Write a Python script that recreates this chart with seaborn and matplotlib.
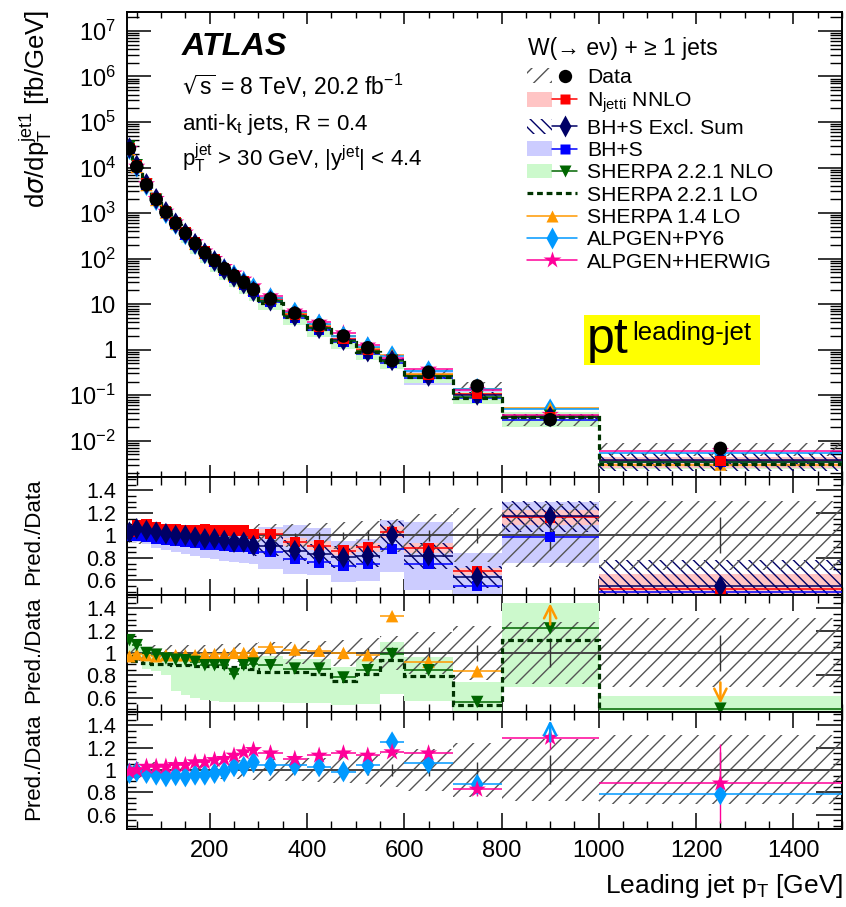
import numpy as np
import matplotlib
matplotlib.use("Agg")
import matplotlib.pyplot as plt
import seaborn as sns
from matplotlib.patches import Patch, Rectangle
from matplotlib.lines import Line2D
from matplotlib.legend_handler import HandlerTuple
from matplotlib import ticker

# ---------------- binning: leading-jet pT [GeV] ----------------
bin_edges = [30, 40, 60, 80, 100, 120, 140, 160, 180, 200, 220, 240, 260,
             280, 300, 350, 400, 450, 500, 550, 600, 700, 800, 1000, 1500]

# ---------------- measured cross section [fb/GeV] ----------------
data_xsec = [2.6e4, 1.05e4, 4.2e3, 2.0e3, 1.05e3, 6.0e2, 3.6e2, 2.15e2, 1.35e2,
             91, 60, 42, 30, 21, 13, 6.3, 3.5, 2.0, 1.1, 0.58, 0.32, 0.16,
             0.029, 0.0068]
data_stat_rel = [0.003, 0.003, 0.004, 0.005, 0.006, 0.007, 0.008, 0.01, 0.011,
                 0.013, 0.015, 0.017, 0.02, 0.022, 0.02, 0.025, 0.03, 0.035,
                 0.045, 0.05, 0.05, 0.07, 0.13, 0.16]
data_total_rel = [0.08, 0.075, 0.07, 0.07, 0.07, 0.07, 0.07, 0.075, 0.075, 0.08,
                  0.08, 0.085, 0.085, 0.09, 0.1, 0.1, 0.11, 0.12, 0.13, 0.15,
                  0.19, 0.24, 0.28, 0.31]

# ---------------- predictions, as ratio to data ----------------
ratio_nnlo = [1.03, 1.09, 1.10, 1.075, 1.06, 1.06, 1.05, 1.05, 1.06, 1.045, 1.045,
              1.045, 1.045, 1.015, 1.015, 0.94, 0.91, 0.865, 0.895, 1.03, 0.89,
              0.68, 1.16, 0.52]
unc_nnlo = [0.03, 0.03, 0.03, 0.03, 0.03, 0.03, 0.03, 0.03, 0.035, 0.035, 0.035,
            0.035, 0.035, 0.04, 0.04, 0.04, 0.045, 0.045, 0.045, 0.05, 0.05, 0.05,
            0.06, 0.27]

ratio_bhs_excl = [1.03, 1.06, 1.045, 1.03, 1.015, 1.0, 1.0, 0.985, 0.97, 0.97,
                  0.955, 0.94, 0.94, 0.91, 0.91, 0.865, 0.835, 0.805, 0.82, 1.0,
                  0.82, 0.63, 1.17, 0.55]
unc_bhs_excl = [0.06, 0.06, 0.06, 0.06, 0.07, 0.07, 0.07, 0.08, 0.08, 0.08, 0.09,
                0.09, 0.09, 0.1, 0.1, 0.11, 0.11, 0.12, 0.12, 0.13, 0.14, 0.15,
                0.12, 0.42]

ratio_bhs = [1.0, 1.0, 0.99, 0.97, 0.96, 0.95, 0.94, 0.93, 0.92, 0.915, 0.91, 0.90,
             0.895, 0.885, 0.85, 0.79, 0.76, 0.73, 0.745, 0.88, 0.75, 0.55, 0.985,
             0.50]
unc_bhs_up = [0.06, 0.07, 0.08, 0.09, 0.10, 0.11, 0.12, 0.13, 0.14, 0.15, 0.16,
              0.17, 0.18, 0.19, 0.26, 0.38, 0.40, 0.30, 0.30, 0.29, 0.49, 0.53,
              0.32, 0.12]
unc_bhs_down = [0.05, 0.06, 0.07, 0.08, 0.09, 0.10, 0.11, 0.12, 0.13, 0.14, 0.15,
                0.15, 0.16, 0.16, 0.18, 0.17, 0.15, 0.20, 0.20, 0.23, 0.31, 0.25,
                0.23, 0.30]

ratio_sherpa_nlo = [1.115, 1.07, 1.0, 0.985, 0.95, 0.94, 0.935, 0.92, 0.89, 0.89,
                    0.89, 0.81, 0.89, 0.905, 0.89, 0.86, 0.86, 0.78, 0.845, 0.99,
                    0.845, 0.56, 1.22, 0.50]
unc_sherpa_nlo_up = [0.03, 0.03, 0.04, 0.04, 0.04, 0.05, 0.05, 0.06, 0.06, 0.07,
                     0.07, 0.08, 0.08, 0.08, 0.09, 0.1, 0.1, 0.12, 0.12, 0.11, 0.14,
                     0.32, 0.19, 0.22]
unc_sherpa_nlo_down = [0.10, 0.12, 0.14, 0.15, 0.16, 0.30, 0.33, 0.35, 0.35, 0.36,
                       0.37, 0.31, 0.37, 0.38, 0.37, 0.36, 0.36, 0.32, 0.36, 0.36,
                       0.33, 0.30, 0.43, 0.30]

ratio_sherpa_lo = [0.97, 0.93, 0.91, 0.90, 0.90, 0.89, 0.89, 0.88, 0.88, 0.88, 0.87,
                   0.87, 0.87, 0.86, 0.83, 0.83, 0.81, 0.75, 0.81, 0.94, 0.79, 0.53,
                   1.12, 0.45]
ratio_sherpa14 = [0.97, 0.99, 0.98, 0.97, 0.98, 0.98, 0.98, 0.98, 0.99, 0.99, 0.99,
                  1.0, 1.0, 1.0, 1.05, 1.03, 1.02, 1.0, 0.98, 1.33, 0.92, 0.835,
                  1.8, 0.44]
ratio_alpgen_py6 = [0.97, 0.985, 0.97, 0.955, 0.94, 0.95, 0.94, 0.955, 0.955, 0.97,
                    0.985, 1.03, 1.03, 1.07, 1.04, 1.04, 1.03, 0.985, 1.04, 1.25,
                    1.06, 0.87, 1.7, 0.78]
ratio_alpgen_hw = [0.985, 1.0, 1.03, 1.03, 1.03, 1.045, 1.045, 1.07, 1.07, 1.09,
                   1.10, 1.13, 1.16, 1.18, 1.15, 1.10, 1.13, 1.15, 1.13, 1.16, 1.15,
                   0.825, 1.29, 0.88]
stat_alpgen_hw = [0.01] * 21 + [0.07, 0.08, 0.40]

# axis decades shown on the cross-section panel
xsec_decades = [-2, -1, 0, 1, 2, 3, 4, 5, 6, 7]

# ---------------- style ----------------
sns.set_theme(style="ticks")
plt.rcParams.update({
    "font.family": ["Liberation Sans", "DejaVu Sans"],
    "mathtext.fontset": "dejavusans",
    "text.color": "black",
    "axes.labelcolor": "black",
    "axes.edgecolor": "black",
    "axes.linewidth": 1.4,
    "hatch.linewidth": 1.0,
    "xtick.color": "black",
    "ytick.color": "black",
    "xtick.direction": "in",
    "ytick.direction": "in",
    "xtick.top": True,
    "ytick.right": True,
    "xtick.labelsize": 17,
    "ytick.labelsize": 17,
})

C_DATA_HATCH = "#555555"
C_NNLO, B_NNLO = "#ff0000", "#ffc4c4"
C_EXCL = "#000066"
C_BHS, B_BHS = "#0000ff", "#ccccff"
C_SHNLO, B_SHNLO = "#006600", "#ccf9cc"
C_SHLO = "#003300"
C_SH14 = "#ff9900"
C_PY6 = "#0099ff"
C_HW = "#ff0099"
LO_DOT = (0, (1.8, 1.2))

edges = np.array(bin_edges, dtype=float)
centers = 0.5 * (edges[:-1] + edges[1:])
widths = edges[1:] - edges[:-1]
data = np.array(data_xsec)
d_stat = np.array(data_stat_rel)
d_tot = np.array(data_total_rel)

W, H = 846, 907
fig = plt.figure(figsize=(W / 100, H / 100), dpi=100)


def box(l, t, r, b):
    return [l / W, 1 - b / H, (r - l) / W, (b - t) / H]


ax0 = fig.add_axes(box(127, 12, 842, 477))
ax1 = fig.add_axes(box(127, 477, 842, 595), sharex=ax0)
ax2 = fig.add_axes(box(127, 595, 842, 712), sharex=ax0)
ax3 = fig.add_axes(box(127, 712, 842, 829), sharex=ax0)


def band(ax, lower, upper, **kw):
    ax.bar(centers, np.asarray(upper) - np.asarray(lower), width=widths,
           bottom=lower, align="center", **kw)


def segments(ax, y, color, z, lw=1.1):
    ax.hlines(y, edges[:-1], edges[1:], colors=color, linewidth=lw, zorder=z)


def marks(ax, y, color, marker, s, z):
    sns.scatterplot(x=centers, y=np.asarray(y), ax=ax, marker=marker, s=s,
                    color=color, edgecolor="none", linewidth=0, zorder=z,
                    legend=False)


def lo_step(ax, vals):
    ax.stairs(vals, edges, baseline=None, color=C_SHLO, linewidth=2.3,
              linestyle=LO_DOT, zorder=4)


def overflow_arrows(ax, r, color):
    lo, hi = ax.get_ylim()
    for c, v in zip(centers, r):
        if v > hi:
            ax.annotate("", xy=(c, hi - 0.05), xytext=(c, hi - 0.29),
                        arrowprops=dict(arrowstyle="->", color=color, lw=1.8,
                                        mutation_scale=22), zorder=7)
        elif v < lo:
            ax.annotate("", xy=(c, lo + 0.05), xytext=(c, lo + 0.29),
                        arrowprops=dict(arrowstyle="->", color=color, lw=1.8,
                                        mutation_scale=22), zorder=7)


r_nnlo = np.array(ratio_nnlo)
r_excl = np.array(ratio_bhs_excl)
r_bhs = np.array(ratio_bhs)
r_shnlo = np.array(ratio_sherpa_nlo)
r_shlo = np.array(ratio_sherpa_lo)
r_sh14 = np.array(ratio_sherpa14)
r_py6 = np.array(ratio_alpgen_py6)
r_hw = np.array(ratio_alpgen_hw)

S_DATA, S_SQ, S_DIA, S_TRI, S_STAR = 95, 55, 120, 80, 170

# ---------------- main panel ----------------
ax0.set_yscale("log")
band(ax0, data * r_bhs * (1 - np.array(unc_bhs_down)),
     data * r_bhs * (1 + np.array(unc_bhs_up)), color=B_BHS, linewidth=0, zorder=1)
band(ax0, data * r_shnlo * (1 - np.array(unc_sherpa_nlo_down)),
     data * r_shnlo * (1 + np.array(unc_sherpa_nlo_up)), color=B_SHNLO,
     linewidth=0, zorder=1.1)
band(ax0, data * r_nnlo * (1 - np.array(unc_nnlo)),
     data * r_nnlo * (1 + np.array(unc_nnlo)), color=B_NNLO, linewidth=0, zorder=1.2)
band(ax0, data * r_excl * (1 - np.array(unc_bhs_excl)),
     data * r_excl * (1 + np.array(unc_bhs_excl)), facecolor="none",
     edgecolor=C_EXCL, hatch="\\\\\\", linewidth=0, zorder=1.3)
band(ax0, data * (1 - d_tot), data * (1 + d_tot), facecolor="none",
     edgecolor=C_DATA_HATCH, hatch="//", linewidth=0, zorder=1.4)

for r, col in [(r_nnlo, C_NNLO), (r_excl, C_EXCL), (r_bhs, C_BHS),
               (r_shnlo, C_SHNLO), (r_sh14, C_SH14), (r_py6, C_PY6), (r_hw, C_HW)]:
    segments(ax0, data * r, col, 3)
lo_step(ax0, data * r_shlo)

marks(ax0, data * r_hw, C_HW, "*", S_STAR, 5)
marks(ax0, data * r_py6, C_PY6, "d", S_DIA, 5.1)
marks(ax0, data * r_sh14, C_SH14, "^", S_TRI, 5.2)
marks(ax0, data * r_shnlo, C_SHNLO, "v", S_TRI, 5.3)
marks(ax0, data * r_bhs, C_BHS, "s", S_SQ, 5.4)
marks(ax0, data * r_excl, C_EXCL, "d", S_DIA, 5.5)
marks(ax0, data * r_nnlo, C_NNLO, "s", S_SQ, 5.6)
ax0.vlines(centers, data * (1 - d_stat), data * (1 + d_stat), colors="black",
           linewidth=1.0, zorder=5.8)
marks(ax0, data, "black", "o", S_DATA, 6)

ax0.set_xlim(edges[0], edges[-1])
ax0.set_ylim(1.6e-3, 2.6e7)
major_y = [10.0 ** e for e in xsec_decades]
minor_y = [k * 10.0 ** e for e in range(xsec_decades[0] - 1, xsec_decades[-1] + 1)
           for k in range(2, 10)]
ax0.yaxis.set_major_locator(ticker.FixedLocator(major_y))
ax0.yaxis.set_minor_locator(ticker.FixedLocator(
    [v for v in minor_y if 1.6e-3 <= v <= 2.6e7]))
ax0.yaxis.set_minor_formatter(ticker.NullFormatter())


def log_label(v, pos):
    e = int(round(np.log10(v)))
    if e == 0:
        return "1"
    if e == 1:
        return "10"
    return r"$\mathregular{10^{%d}}$" % e


ax0.yaxis.set_major_formatter(ticker.FuncFormatter(log_label))
ax0.tick_params(axis="y", which="major", length=17, width=1.1, pad=8)
ax0.tick_params(axis="y", which="minor", length=8.6, width=1.0)
ax0.tick_params(axis="x", which="major", length=8.6, width=1.1, labelbottom=False)
ax0.tick_params(axis="x", which="minor", length=4.3, width=1.0)

# ---------------- ratio panels ----------------
for ax in (ax1, ax2, ax3):
    ax.set_ylim(0.47, 1.52)
    ax.yaxis.set_major_locator(ticker.FixedLocator([0.6, 0.8, 1.0, 1.2, 1.4]))
    ax.yaxis.set_minor_locator(ticker.MultipleLocator(0.05))
    ax.yaxis.set_major_formatter(ticker.FuncFormatter(lambda v, p: f"{v:g}"))
    ax.tick_params(axis="y", which="major", length=19, width=1.1, pad=8,
                   labelsize=15.5)
    ax.tick_params(axis="y", which="minor", length=6.5, width=1.0)
    ax.tick_params(axis="x", which="major", length=11.5, width=1.1, pad=8)
    ax.tick_params(axis="x", which="minor", length=5.8, width=1.0)
    band(ax, 1 - d_tot, 1 + d_tot, facecolor="none", edgecolor=C_DATA_HATCH,
         hatch="//", linewidth=0, zorder=1.5)
    ax.axhline(1.0, color="#444444", linewidth=1.4, zorder=2.5)
    ax.vlines(centers, 1 - d_stat, 1 + d_stat, colors="#333333", linewidth=1.0,
              zorder=2.6)

ax0.xaxis.set_major_locator(ticker.MultipleLocator(200))
ax0.xaxis.set_minor_locator(ticker.MultipleLocator(50))
for ax in (ax1, ax2):
    ax.tick_params(axis="x", labelbottom=False)

# panel 1: fixed-order predictions
band(ax1, r_bhs * (1 - np.array(unc_bhs_down)), r_bhs * (1 + np.array(unc_bhs_up)),
     color=B_BHS, linewidth=0, zorder=1)
band(ax1, r_nnlo * (1 - np.array(unc_nnlo)), r_nnlo * (1 + np.array(unc_nnlo)),
     color=B_NNLO, linewidth=0, zorder=1.2)
band(ax1, r_excl * (1 - np.array(unc_bhs_excl)), r_excl * (1 + np.array(unc_bhs_excl)),
     facecolor="none", edgecolor=C_EXCL, hatch="\\\\\\", linewidth=0, zorder=1.3)
segments(ax1, r_nnlo, C_NNLO, 3)
segments(ax1, r_excl, C_EXCL, 3)
segments(ax1, r_bhs, C_BHS, 3)
marks(ax1, r_bhs, C_BHS, "s", S_SQ, 5)
marks(ax1, r_nnlo, C_NNLO, "s", S_SQ, 5.1)
marks(ax1, r_excl, C_EXCL, "d", S_DIA, 5.2)
overflow_arrows(ax1, r_bhs, C_BHS)

# panel 2: SHERPA
band(ax2, r_shnlo * (1 - np.array(unc_sherpa_nlo_down)),
     r_shnlo * (1 + np.array(unc_sherpa_nlo_up)), color=B_SHNLO, linewidth=0, zorder=1)
segments(ax2, r_shnlo, C_SHNLO, 3)
segments(ax2, r_sh14, C_SH14, 3)
lo_step(ax2, r_shlo)
marks(ax2, r_sh14, C_SH14, "^", S_TRI, 5)
marks(ax2, r_shnlo, C_SHNLO, "v", S_TRI, 5.1)
overflow_arrows(ax2, r_sh14, C_SH14)
overflow_arrows(ax2, r_shnlo, C_SHNLO)

# panel 3: ALPGEN
segments(ax3, r_py6, C_PY6, 3)
segments(ax3, r_hw, C_HW, 3)
ax3.vlines(centers, r_hw * (1 - np.array(stat_alpgen_hw)),
           r_hw * (1 + np.array(stat_alpgen_hw)), colors=C_HW, linewidth=1.0, zorder=3)
marks(ax3, r_py6, C_PY6, "d", S_DIA, 5)
marks(ax3, r_hw, C_HW, "*", S_STAR, 5.1)
overflow_arrows(ax3, r_py6, C_PY6)
overflow_arrows(ax3, r_hw, C_HW)

ax0.set_xlim(edges[0], edges[-1])
for ax in (ax0, ax1, ax2, ax3):
    ax.set_xlabel("")
    ax.set_ylabel("")

# ---------------- axis titles ----------------
fig.text(36 / W, 1 - 10 / H,
         r"d$\sigma$/dp$_\mathregular{T}^\mathregular{jet1}$ [fb/GeV]",
         rotation=90, ha="center", va="top", fontsize=18.5)
for top in (478, 596, 713):
    fig.text(34 / W, 1 - top / H, "Pred./Data", rotation=90, ha="center",
             va="top", fontsize=16)
fig.text(843 / W, 1 - 893 / H, r"Leading jet p$_\mathregular{T}$ [GeV]",
         ha="right", va="baseline", fontsize=19)

# ---------------- annotations ----------------
fig.text(182 / W, 1 - 55 / H, "ATLAS", fontsize=23.3, fontweight="bold",
         fontstyle="italic", va="baseline")
fig.text(182 / W, 1 - 95 / H,
         r"$\sqrt{\mathregular{s}}$ = 8 TeV, 20.2 fb$^\mathregular{-1}$",
         fontsize=16.5, va="baseline")
fig.text(182 / W, 1 - 130 / H, r"anti-k$_\mathregular{t}$ jets, R = 0.4",
         fontsize=16, va="baseline")
fig.text(182 / W, 1 - 166 / H,
         r"p$_\mathregular{T}^\mathregular{jet}$ > 30 GeV, |y$^\mathregular{jet}$| < 4.4",
         fontsize=16, va="baseline")

fig.add_artist(Rectangle((584 / W, 1 - 365 / H), 176 / W, 50 / H,
                         transform=fig.transFigure, facecolor="#ffff00",
                         edgecolor="none", zorder=8))
fig.text(587 / W, 1 - 353 / H, "pt", fontsize=36, va="baseline", zorder=9)
fig.text(632 / W, 1 - 340 / H, "leading-jet", fontsize=18.5, va="baseline", zorder=9)

# ---------------- legend ----------------
fig.text(528 / W, 1 - 55 / H, "W(\u2192 e\u03bd) + \u2265 1 jets", fontsize=16.5,
         va="baseline")
handles = [
    (Patch(facecolor="none", edgecolor=C_DATA_HATCH, hatch="//", linewidth=0),
     Line2D([], [], ls="none", marker="o", ms=9.6, color="black", mec="none")),
    (Patch(facecolor=B_NNLO, linewidth=0),
     Line2D([], [], color=C_NNLO, lw=1.1, marker="s", ms=7.4, mec="none")),
    (Patch(facecolor="none", edgecolor=C_EXCL, hatch="\\\\\\", linewidth=0),
     Line2D([], [], color=C_EXCL, lw=1.1, marker="d", ms=11, mec="none")),
    (Patch(facecolor=B_BHS, linewidth=0),
     Line2D([], [], color=C_BHS, lw=1.1, marker="s", ms=7.4, mec="none")),
    (Patch(facecolor=B_SHNLO, linewidth=0),
     Line2D([], [], color=C_SHNLO, lw=1.1, marker="v", ms=9, mec="none")),
    Line2D([], [], color=C_SHLO, lw=2.3, ls=LO_DOT),
    Line2D([], [], color=C_SH14, lw=1.1, marker="^", ms=9, mec="none"),
    Line2D([], [], color=C_PY6, lw=1.1, marker="d", ms=11, mec="none"),
    Line2D([], [], color=C_HW, lw=1.1, marker="*", ms=13, mec="none"),
]
labels = ["Data", r"N$_\mathregular{jetti}$ NNLO", "BH+S Excl. Sum", "BH+S",
          "SHERPA 2.2.1 NLO", "SHERPA 2.2.1 LO", "SHERPA 1.4 LO", "ALPGEN+PY6",
          "ALPGEN+HERWIG"]
leg = ax0.legend(handles, labels, handler_map={tuple: HandlerTuple(ndivide=None, pad=0)},
                 loc="upper left", bbox_to_anchor=(527 / W, 1 - 68 / H),
                 bbox_transform=fig.transFigure, frameon=False, fontsize=15.2,
                 handlelength=2.37, handleheight=0.7, handletextpad=0.47,
                 labelspacing=0.16, borderpad=0, borderaxespad=0)
leg.set_zorder(10)

fig.savefig("out.png", dpi=100)
